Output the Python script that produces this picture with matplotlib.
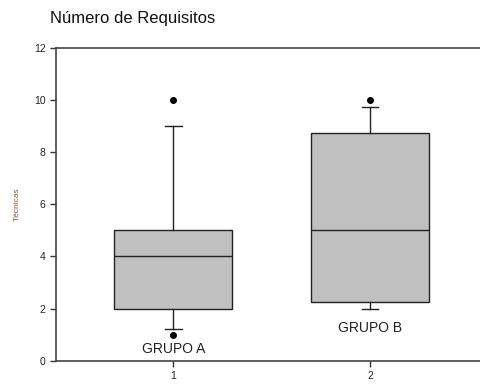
import matplotlib.pyplot as plt

plt.rcParams['font.family'] = ['Liberation Sans', 'DejaVu Sans']

# box summary per group: whisker ends, quartiles, median, outliers
groups = ['GRUPO A', 'GRUPO B']
positions = [1, 2]
whislo = [1.2, 2.0]
q1 = [2.0, 2.25]
med = [4.0, 5.0]
q3 = [5.0, 8.75]
whishi = [9.0, 9.75]
fliers = [[10, 1], [10]]
label_y = [0.45, 1.25]

stats = []
for i in range(len(groups)):
    stats.append({'whislo': whislo[i], 'q1': q1[i], 'med': med[i], 'q3': q3[i],
                  'whishi': whishi[i], 'fliers': fliers[i], 'label': groups[i]})

fig = plt.figure(figsize=(4.8, 3.85), dpi=100)
ax = fig.add_axes([0.1167, 0.0631, 0.90, 0.8122])

edge = '#222222'
ax.bxp(stats, positions=positions, widths=0.6, patch_artist=True, capwidths=0.085,
       boxprops=dict(facecolor='#c0c0c0', edgecolor=edge, linewidth=1),
       medianprops=dict(color=edge, linewidth=1),
       whiskerprops=dict(color=edge, linewidth=1),
       capprops=dict(color=edge, linewidth=1),
       flierprops=dict(marker='o', markerfacecolor='black', markeredgecolor='black',
                       markersize=4))

for p, g, y in zip(positions, groups, label_y):
    ax.text(p, y, g, ha='center', va='center', fontsize=10, color='#222222')

ax.set_xlim(0.403, 2.6)
ax.set_ylim(0, 12)
ax.set_xticks(positions)
ax.set_xticklabels(['1', '2'])
ax.set_yticks(range(0, 13, 2))
ax.tick_params(labelsize=7.5, length=4, width=1, color='#333333', labelcolor='#222222')
for s in ['left', 'top', 'bottom']:
    ax.spines[s].set_color('#444444')
    ax.spines[s].set_linewidth(1.2)
ax.spines['right'].set_visible(False)

ax.set_ylabel('Técnicas', fontsize=6, color='#7a5a4a', labelpad=9)
fig.text(0.104, 0.953, 'Número de Requisitos', fontsize=12, color='#111111',
         ha='left', va='center')

fig.savefig('out.png', dpi=100)
